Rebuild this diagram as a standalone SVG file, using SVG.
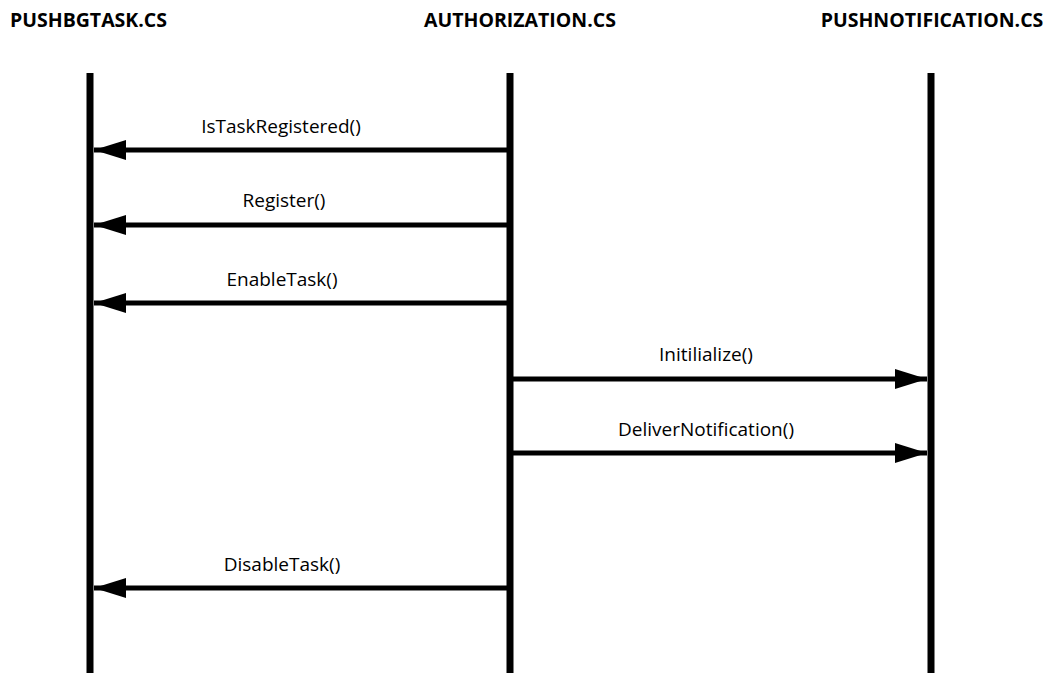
<svg xmlns="http://www.w3.org/2000/svg" width="1043" height="673" viewBox="0 0 1043 673">
  <style>
    .head { font-family: "Open Sans", "Liberation Sans", sans-serif; font-weight: 700; font-size: 19.5px; fill: #000; text-anchor: middle; }
    .msg { font-family: "Open Sans", "Liberation Sans", sans-serif; font-size: 19px; fill: #000; text-anchor: middle; }
    .life { stroke: #000; stroke-width: 7; fill: none; }
    .call { stroke: #000; stroke-width: 5; fill: none; }
  </style>
  <defs>
    <marker id="head" viewBox="0 0 32 20" refX="32" refY="10" markerWidth="32" markerHeight="20" markerUnits="userSpaceOnUse" orient="auto">
      <path d="M0,0 L32,10 L0,20 Z" fill="#000"/>
    </marker>
  </defs>
  <rect width="1043" height="673" fill="#fff"/>

  <!-- lifelines with their headings -->
  <g id="pushbgtask">
    <text class="head" x="88.5" y="27">PUSHBGTASK.CS</text>
    <line class="life" x1="90" y1="73" x2="90" y2="673"/>
  </g>
  <g id="authorization">
    <text class="head" x="520" y="27">AUTHORIZATION.CS</text>
    <line class="life" x1="510" y1="73" x2="510" y2="673"/>
  </g>
  <g id="pushnotification">
    <text class="head" x="932" y="27">PUSHNOTIFICATION.CS</text>
    <line class="life" x1="931" y1="73" x2="931" y2="673"/>
  </g>

  <!-- calls between lifelines -->
  <g id="connectors">
    <line class="call" x1="507" y1="150" x2="94" y2="150" marker-end="url(#head)"/>
    <line class="call" x1="507" y1="225" x2="94" y2="225" marker-end="url(#head)"/>
    <line class="call" x1="507" y1="303" x2="94" y2="303" marker-end="url(#head)"/>
    <line class="call" x1="513" y1="379" x2="927" y2="379" marker-end="url(#head)"/>
    <line class="call" x1="513" y1="453" x2="927" y2="453" marker-end="url(#head)"/>
    <line class="call" x1="507" y1="588" x2="94" y2="588" marker-end="url(#head)"/>
    <text class="msg" x="281" y="133">IsTaskRegistered()</text>
    <text class="msg" x="284" y="207">Register()</text>
    <text class="msg" x="282" y="286">EnableTask()</text>
    <text class="msg" x="706" y="361">Initilialize()</text>
    <text class="msg" x="706" y="436">DeliverNotification()</text>
    <text class="msg" x="282" y="571">DisableTask()</text>
  </g>
</svg>
